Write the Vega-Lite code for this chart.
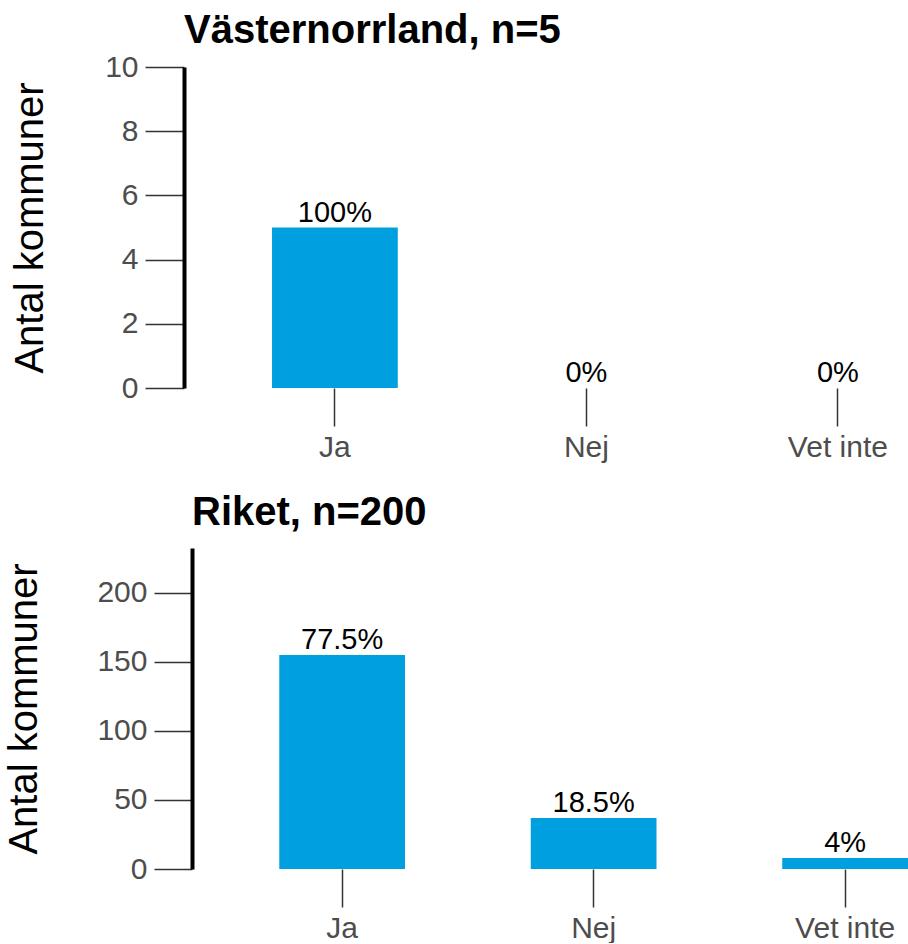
{
  "$schema": "https://vega.github.io/schema/vega-lite/v6.json",
  "padding": {"left": 4, "top": 11, "right": 0, "bottom": 0},
  "background": "white",
  "config": {"font": "Liberation Sans", "view": {"stroke": null}, "concat": {"spacing": 31}},
  "datasets": {
    "vasternorrland": [
      {"svar": "Ja", "antal": 5, "andel": 1},
      {"svar": "Nej", "antal": 0, "andel": 0},
      {"svar": "Vet inte", "antal": 0, "andel": 0}
    ],
    "riket": [
      {"svar": "Ja", "antal": 155, "andel": 0.775},
      {"svar": "Nej", "antal": 37, "andel": 0.185},
      {"svar": "Vet inte", "antal": 8, "andel": 0.04}
    ]
  },
  "vconcat": [
    {
      "data": {"name": "vasternorrland"},
      "title": {"text": "Västernorrland, n=5", "anchor": "start", "frame": "group", "dx": -8, "fontSize": 40, "fontWeight": "bold", "color": "#000000", "offset": 1},
      "width": 716,
      "height": 321,
      "encoding": {
        "x": {
          "field": "svar", "type": "nominal", "sort": ["Ja", "Nej", "Vet inte"],
          "scale": {"paddingInner": 0.5, "paddingOuter": 0.1735, "align": 0.917},
          "axis": {"title": null, "labelAngle": 0, "domain": false, "tickSize": 38, "tickColor": "#333333", "tickWidth": 1.5, "labelFontSize": 30, "labelColor": "#4d4d4d", "labelPadding": 6}
        },
        "y": {
          "field": "antal", "type": "quantitative",
          "scale": {"domain": [0, 10], "nice": false},
          "axis": {"title": "Antal kommuner", "titleFontSize": 40, "titleFontWeight": "normal", "titleColor": "#000000", "titlePadding": 54, "values": [0, 2, 4, 6, 8, 10], "tickSize": 39, "tickColor": "#333333", "tickWidth": 1.5, "labelFontSize": 30, "labelColor": "#4d4d4d", "labelPadding": 7, "labelFlush": false, "domainColor": "#000000", "domainWidth": 4, "grid": false, "offset": 8}
        }
      },
      "layer": [
        {"mark": {"type": "bar", "color": "#009FE0"}},
        {"mark": {"type": "text", "baseline": "bottom", "fontSize": 29, "color": "#000000"}, "encoding": {"text": {"field": "andel", "type": "quantitative", "format": ".1~%"}}}
      ]
    },
    {
      "data": {"name": "riket"},
      "title": {"text": "Riket, n=200", "anchor": "start", "frame": "group", "fontSize": 40, "fontWeight": "bold", "color": "#000000", "offset": 15},
      "width": 716,
      "height": 321,
      "encoding": {
        "x": {
          "field": "svar", "type": "nominal", "sort": ["Ja", "Nej", "Vet inte"],
          "scale": {"paddingInner": 0.5, "paddingOuter": 0.1735, "align": 1},
          "axis": {"title": null, "labelAngle": 0, "domain": false, "tickSize": 38, "tickColor": "#333333", "tickWidth": 1.5, "labelFontSize": 30, "labelColor": "#4d4d4d", "labelPadding": 6}
        },
        "y": {
          "field": "antal", "type": "quantitative",
          "scale": {"domain": [0, 232.5], "nice": false},
          "axis": {"title": "Antal kommuner", "titleFontSize": 40, "titleFontWeight": "normal", "titleColor": "#000000", "titlePadding": 52, "values": [0, 50, 100, 150, 200], "tickSize": 38, "tickColor": "#333333", "tickWidth": 1.5, "labelFontSize": 30, "labelColor": "#4d4d4d", "labelPadding": 7, "labelFlush": false, "domainColor": "#000000", "domainWidth": 4, "grid": false}
        }
      },
      "layer": [
        {"mark": {"type": "bar", "color": "#009FE0"}},
        {"mark": {"type": "text", "baseline": "bottom", "fontSize": 29, "color": "#000000"}, "encoding": {"text": {"field": "andel", "type": "quantitative", "format": ".1~%"}}}
      ]
    }
  ]
}
